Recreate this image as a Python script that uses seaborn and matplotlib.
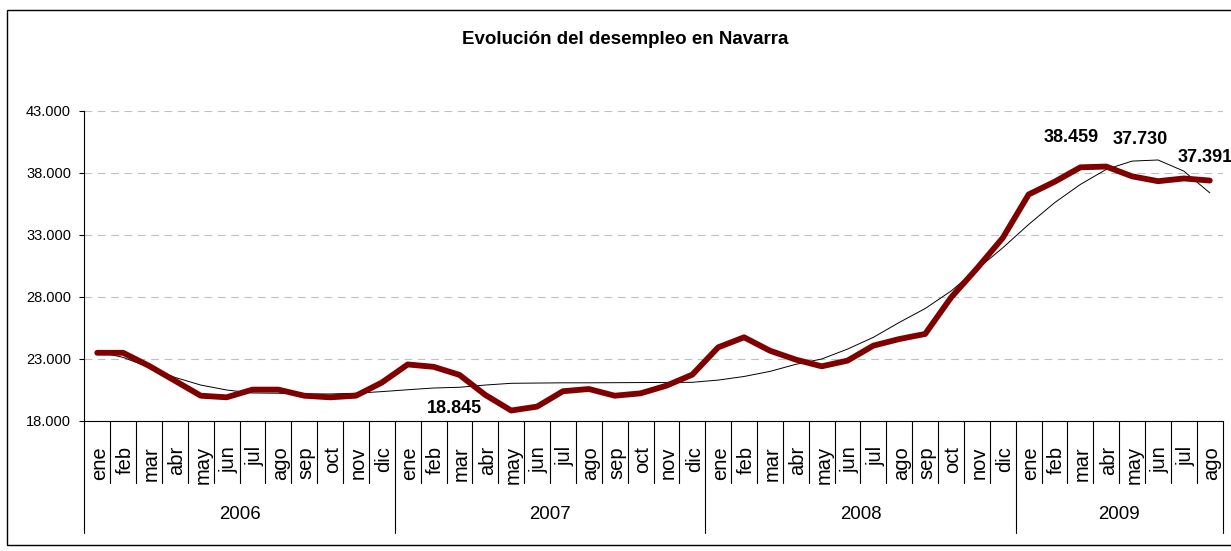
import matplotlib
matplotlib.use("Agg")
import matplotlib.pyplot as plt
import matplotlib.patches as patches
from matplotlib import font_manager
from matplotlib.ticker import FuncFormatter
import pandas as pd
import seaborn as sns

# datos
years = ['2006', '2007', '2008', '2009']
months = ['ene', 'feb', 'mar', 'abr', 'may', 'jun', 'jul', 'ago', 'sep', 'oct', 'nov', 'dic']
months_per_year = [12, 12, 12, 8]

paro = [23500, 23500, 22450, 21250, 20040, 19910, 20530, 20530, 20040, 19910, 20040, 21100,
        22560, 22370, 21720, 20100, 18845, 19160, 20400, 20580, 20040, 20230, 20850, 21740,
        23940, 24750, 23670, 22950, 22410, 22870, 24080, 24610, 25020, 27960, 30300, 32770,
        36270, 37290, 38459, 38520, 37730, 37340, 37560, 37391]

tendencia = [23600, 23130, 22330, 21520, 20900, 20500, 20260, 20240, 20180, 20180, 20240, 20370,
             20520, 20660, 20720, 20900, 21040, 21060, 21080, 21080, 21090, 21100, 21110, 21120,
             21300, 21590, 22000, 22570, 23000, 23800, 24750, 25950, 27070, 28480, 30230, 31970,
             33850, 35600, 37080, 38290, 38960, 39050, 38150, 36400]

labelled = [16, 38, 40, 43]

mes, anio = [], []
for y, n in zip(years, months_per_year):
    mes += months[:n]
    anio += [y] * n

df = pd.DataFrame({'mes': mes, 'anio': anio, 'paro': paro, 'tendencia': tendencia})
df['pos'] = range(len(df))

sns.set_style('white')
plt.rcParams['font.family'] = ['Liberation Sans', 'DejaVu Sans']
plt.rcParams['text.color'] = 'black'
plt.rcParams['ytick.color'] = 'black'

names = {f.name for f in font_manager.fontManager.ttflist}
narrow = 'Liberation Sans Narrow' in names
cond_font = 'Liberation Sans Narrow' if narrow else 'Liberation Sans'

W, H = 1231, 551
fig = plt.figure(figsize=(W / 100, H / 100), dpi=100)
ax = fig.add_axes([84.3 / W, 1 - 421 / H, (1222.7 - 84.3) / W, 310 / H])

sns.lineplot(data=df, x='pos', y='tendencia', color='black', lw=0.7, ax=ax, zorder=3)
sns.lineplot(data=df, x='pos', y='paro', color='#800000', lw=4.2, ax=ax, zorder=4,
             solid_capstyle='round', solid_joinstyle='round')

ax.set_xlim(-0.5, len(df) - 0.5)
ax.set_ylim(18000, 43000)
ax.set_yticks(range(18000, 43001, 5000))
ax.yaxis.set_major_formatter(FuncFormatter(lambda v, _: f"{int(v):,}".replace(',', '.')))
ax.grid(axis='y', color='#c0c0c0', lw=0.8, ls=(0, (7, 5)))
ax.set_axisbelow(True)
ax.set_xticks([])
ax.set_xlabel('')
ax.set_ylabel('')
for s in ['top', 'right']:
    ax.spines[s].set_visible(False)
for s in ['left', 'bottom']:
    ax.spines[s].set_color('black')
    ax.spines[s].set_linewidth(0.8)
ax.tick_params(axis='y', left=True, length=3.5, width=0.8, pad=6, labelsize=10.5,
               colors='black', labelcolor='black')

# eje de categorias en dos niveles
trans = ax.get_xaxis_transform()
for i, m in enumerate(df['mes']):
    ax.text(i + 0.08, -0.081, m, rotation=90, ha='center', va='top', transform=trans,
            fontsize=17 if narrow else 14.5, family=cond_font, color='black')

year_edges = [0]
for n in months_per_year:
    year_edges.append(year_edges[-1] + n)
for b in range(len(df) + 1):
    bottom = -0.361 if b in year_edges else -0.2
    ax.plot([b - 0.5, b - 0.5], [0, bottom], transform=trans, color='black', lw=0.8, clip_on=False)

for y in years:
    center = df.loc[df['anio'] == y, 'pos'].mean()
    ax.text(center, -0.303, y, ha='center', va='center', transform=trans, fontsize=13.4,
            color='black')

offsets = {16: (-57, 2, 'center'), 38: (-9, 30, 'center'), 40: (8, 37, 'center'), 43: (-32, 23.5, 'left')}
for idx in labelled:
    dx, dy, ha = offsets[idx]
    ax.annotate(f"{paro[idx]:,}".replace(',', '.'), xy=(idx, paro[idx]), xytext=(dx, dy),
                textcoords='offset pixels', ha=ha, va='center', fontweight='bold',
                fontsize=15.5 if narrow else 13, family=cond_font, color='black',
                annotation_clip=False)

fig.text(625 / W, 1 - 40 / H, 'Evolución del desempleo en Navarra', ha='center', va='center',
         fontweight='bold', fontsize=13.5, color='black')

fig.patches.append(patches.Rectangle((7.3 / W, 6 / H), 1.0, 535 / H, transform=fig.transFigure,
                                     fill=False, lw=1, ec='black', clip_on=False))

fig.savefig('out.png', dpi=100)
